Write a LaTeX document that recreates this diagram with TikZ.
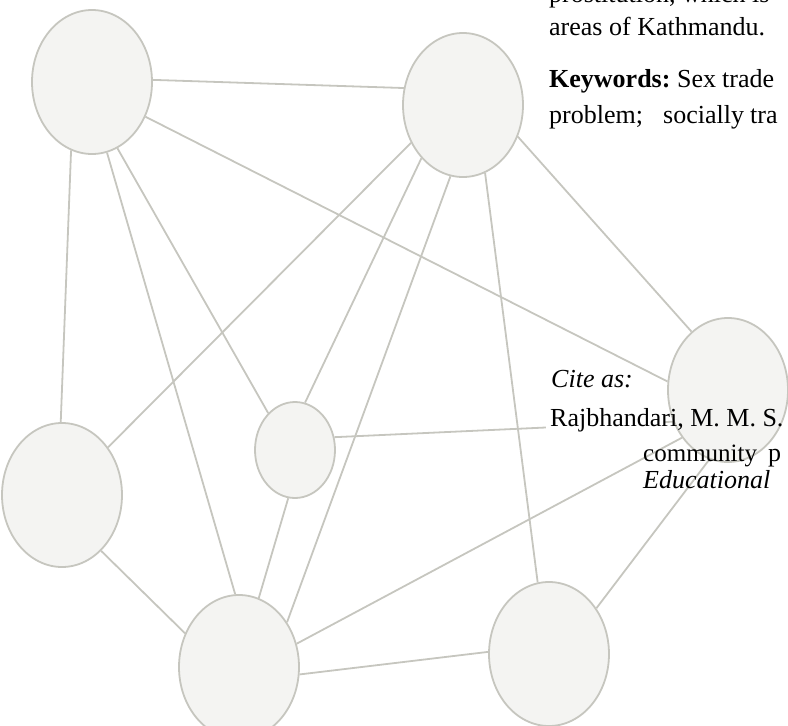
\documentclass[tikz,border=0pt]{standalone}
\usepackage{fontspec}
\setmainfont{Liberation Serif}
\usetikzlibrary{shapes.geometric,backgrounds}

\definecolor{nodefill}{HTML}{F4F4F2}
\definecolor{linkgray}{HTML}{C6C6BF}

\begin{document}
\begin{tikzpicture}[x=1pt,y=-1pt,
    vertex/.style={ellipse,draw=linkgray,fill=nodefill,line width=1.8pt,
      minimum width=120pt,minimum height=144pt,inner sep=0pt},
    smallvertex/.style={vertex,minimum width=80pt,minimum height=96pt},
    link/.style={draw=linkgray,line width=1.8pt},
    body/.style={anchor=base west,inner sep=0pt,font=\fontsize{26}{30}\selectfont}]

    % Frame of the picture
    \useasboundingbox (0,0) rectangle (788,726);
    \clip (0,0) rectangle (788,726);

    % Define the nodes
    \node[vertex] (A) at (92,82) {};
    \node[vertex] (B) at (463,105) {};
    \node[vertex] (C) at (728,390) {};
    \node[vertex] (D) at (62,495) {};
    \node[smallvertex] (E) at (295,450) {};
    \node[vertex] (F) at (239,667) {};
    \node[vertex] (G) at (549,654) {};

    % Draw the links behind the nodes
    \begin{scope}[on background layer]
        \draw[link] (A.2) -- (B.164);
        \draw[link] (A.253) -- (D.91);
        \draw[link] (A.291) -- (E.126);
        \draw[link] (A.282) -- (F.93);
        \draw[link] (A.327) -- (C.172);
        \draw[link] (B.216) -- (D.46);
        \draw[link] (B.232) -- (E.78);
        \draw[link] (B.260) -- (F.43);
        \draw[link] (B.288) -- (G.99);
        \draw[link] (B.330) -- (C.122);
        \draw[link] (D.305) -- (F.148);
        \draw[link] (E.262) -- (F.74);
        \draw[link] (E.18) -- (C.210);
        \draw[link] (F.22) -- (C.226);
        \draw[link] (F.353) -- (G.178);
        \draw[link] (G.44) -- (C.255);
        \fill[white] (546,411) rectangle (665,441); % under the citation
    \end{scope}

    % Text of the page round the figure
    \node[body] (prost) at (549,2) {prostitution, which is};
    \node[body] (areas) at (549,35) {areas of Kathmandu.};
    \node[body] (keyw) at (549,87) {\textbf{Keywords:}};
    \node[body] (sex) at (677,87) {Sex};
    \node[body] (trade) at (722,87) {trade};
    \node[body] (probl) at (549,123) {problem;};
    \node[body] (social) at (663,123) {socially};
    \node[body] (tra) at (750,123) {tra};

    % Citation
    \node[body] (cite) at (551,387) {\textit{Cite as:}};
    \node[body] (author) at (550,426) {Rajbhandari, M. M. S.};
    \node[body,font=\fontsize{25}{30}\selectfont] (commu) at (643,461) {community};
    \node[body] (pp) at (768,461) {p};
    \node[body] (journal) at (643,488) {\textit{Educational}};

\end{tikzpicture}
\end{document}
